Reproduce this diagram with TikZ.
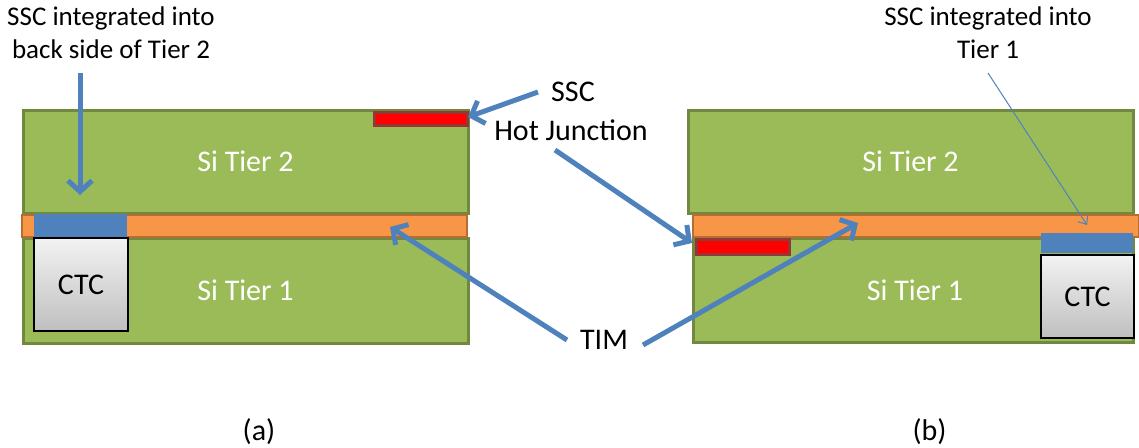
\documentclass[tikz,border=0pt]{standalone}
\usepackage{fontspec}
\setmainfont{Carlito}
\usetikzlibrary{arrows.meta}
\definecolor{sigreen}{HTML}{9BBB59}
\definecolor{sigreenD}{HTML}{71893F}
\definecolor{timor}{HTML}{F79646}
\definecolor{timorD}{HTML}{B66D31}
\definecolor{sscred}{HTML}{FF0000}
\definecolor{sscredD}{HTML}{953735}
\definecolor{sscblue}{HTML}{4F81BD}
\tikzset{
  big/.style={font=\fontsize{30}{36}\selectfont},
  tier/.style={draw=sigreenD, fill=sigreen, line width=3pt, text=white, inner sep=0pt, big},
  tim/.style={draw=timorD, fill=timor, line width=2pt, inner sep=0pt},
  redssc/.style={draw=sscredD, fill=sscred, line width=3pt, inner sep=0pt},
  bluessc/.style={fill=sscblue, inner sep=0pt},
  ctc/.style={draw=black, line width=1.5pt, top color=white!95!black, bottom color=black!25,
    inner sep=0pt, big},
  lab/.style={inner sep=0pt, align=center, big},
  toplab/.style={inner sep=0pt, align=center, font=\fontsize{27}{33}\selectfont},
  bluearrow/.style={draw=sscblue, line width=5pt, -{Straight Barb[length=11pt,width=24pt]}},
  thinarrow/.style={draw=sscblue, line width=1pt, -{Straight Barb[length=7pt,width=12pt]}},
}
\begin{document}
\begin{tikzpicture}[x=1pt,y=-1pt]
\useasboundingbox (0,0) rectangle (1139,447);
% panel (a)
\node[tier, minimum width=445pt, minimum height=103pt] (t2a) at (245.5,161.5) {Si Tier 2};
\node[tier, minimum width=445pt, minimum height=105pt] (t1a) at (245.5,290.5) {Si Tier 1};
\node[tim, minimum width=445pt, minimum height=22pt] (tima) at (244.5,226) {};
\node[redssc, minimum width=93pt, minimum height=13pt] (reda) at (420.5,118.5) {};
\node[bluessc, minimum width=93pt, minimum height=23pt] (bluea) at (80.5,225.5) {};
\node[ctc, minimum width=94pt, minimum height=93pt] (ctca) at (81,284.5) {CTC};
% panel (b)
\node[tier, minimum width=445pt, minimum height=103pt] (t2b) at (910.5,161.5) {Si Tier 2};
\node[tier, minimum width=440pt, minimum height=104pt] (t1b) at (913,290) {\hspace*{4pt}Si Tier 1};
\node[tim, minimum width=446pt, minimum height=22pt] (timb) at (916,226) {};
\node[redssc, minimum width=93pt, minimum height=15pt] (redb) at (742.5,246.5) {};
\node[bluessc, minimum width=92pt, minimum height=20pt] (blueb) at (1087,243) {};
\node[ctc, minimum width=93pt, minimum height=83pt] (ctcb) at (1087.5,296.5) {CTC};
% labels
\node[toplab] (labA) at (111,33) {SSC integrated into\\back side of Tier 2};
\node[toplab] (labB) at (988,33) {SSC integrated into\\Tier 1};
\node[lab] (ssc) at (573,92) {SSC};
\node[lab] (hj) at (571,130) {Hot Junction};
\node[lab] (timlab) at (604,340) {TIM};
\node[lab] (capa) at (259,432) {(a)};
\node[lab] (capb) at (929.5,432) {(b)};
% arrow end points
\coordinate (aS) at (80,73);
\coordinate (aE) at (80,195);
\coordinate (sS) at (538,92);
\coordinate (sE) at (468,117);
\coordinate (hS) at (555,150);
\coordinate (hE) at (692,243);
\coordinate (m1S) at (567,340);
\coordinate (m1E) at (390,227);
\coordinate (m2S) at (643,345);
\coordinate (m2E) at (858,223);
\coordinate (bS) at (988,73);
\coordinate (bE) at (1087,225);
\draw[bluearrow] (aS) -- (aE);
\draw[bluearrow] (sS) -- (sE);
\draw[bluearrow] (hS) -- (hE);
\draw[bluearrow] (m1S) -- (m1E);
\draw[bluearrow] (m2S) -- (m2E);
\draw[thinarrow] (bS) -- (bE);
\end{tikzpicture}
\end{document}
